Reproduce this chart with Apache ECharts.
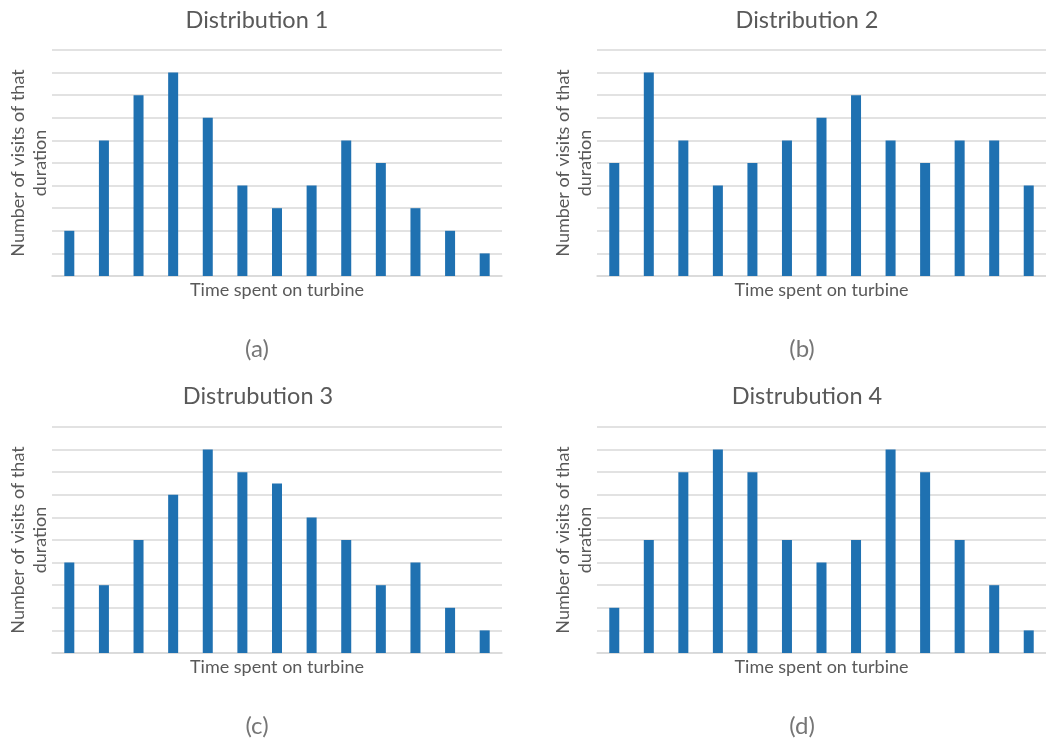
<!DOCTYPE html>
<html>
<head>
<meta charset="utf-8">
<script src="https://cdn.jsdelivr.net/npm/echarts@6/dist/echarts.min.js"></script>
<style>
  html, body { margin: 0; padding: 0; background: #fff; }
  #chart { width: 1046px; height: 742px; }
</style>
</head>
<body>
<div id="chart"></div>
<script>
// 13 duration buckets, no labels shown on the axis
var bins = ['1','2','3','4','5','6','7','8','9','10','11','12','13'];

var dist1 = [2, 6, 8, 9, 7, 4, 3, 4, 6, 5, 3, 2, 1];
var dist2 = [5, 9, 6, 4, 5, 6, 7, 8, 6, 5, 6, 6, 4];
var dist3 = [4, 3, 5, 7, 9, 8, 7.5, 6, 5, 3, 4, 2, 1];
var dist4 = [2, 5, 8, 9, 8, 5, 4, 5, 9, 8, 5, 3, 1];

var titles = ['Distribution 1', 'Distribution 2', 'Distrubution 3', 'Distrubution 4'];
var captions = ['(a)', '(b)', '(c)', '(d)'];

var FONT = 'Lato';
var GREY = '#595959';
var LINE = '#d9d9d9';
var BLUE = '#1f71b1';

var panels = [
  { left: 52,  top: 50,  width: 450, data: dist1, tx: 252, ty: 3,   cx: 257, cy: 349 },
  { left: 597, top: 50,  width: 458, data: dist2, tx: 802, ty: 3,   cx: 802, cy: 349 },
  { left: 52,  top: 427, width: 450, data: dist3, tx: 253, ty: 379, cx: 257, cy: 726 },
  { left: 597, top: 427, width: 458, data: dist4, tx: 802, ty: 379, cx: 802, cy: 726 }
];

var grid = [], xAxis = [], yAxis = [], series = [], title = [], graphic = [];

panels.forEach(function (p, i) {
  grid.push({ left: p.left, top: p.top, width: p.width, height: 226 });
  xAxis.push({
    type: 'category', gridIndex: i, data: bins,
    axisLine: { lineStyle: { color: LINE, width: 1.5 } },
    axisTick: { show: false }, axisLabel: { show: false },
    name: 'Time spent on turbine', nameLocation: 'middle', nameGap: 5,
    nameTextStyle: { fontFamily: FONT, fontSize: 18, color: GREY, verticalAlign: 'top' }
  });
  yAxis.push({
    type: 'value', gridIndex: i, min: 0, max: 10, interval: 1,
    axisLine: { show: false }, axisTick: { show: false }, axisLabel: { show: false },
    splitLine: { lineStyle: { color: LINE, width: 1.5 } },
    name: 'Number of visits of that\nduration', nameLocation: 'middle', nameGap: 1,
    nameTextStyle: { fontFamily: FONT, fontSize: 18, color: GREY, lineHeight: 22 }
  });
  series.push({
    type: 'bar', xAxisIndex: i, yAxisIndex: i, data: p.data,
    barWidth: 10, itemStyle: { color: BLUE }, silent: true
  });
  title.push({
    text: titles[i], left: p.tx, top: p.ty, textAlign: 'center',
    textStyle: { fontFamily: FONT, fontSize: 23.5, fontWeight: 'normal', color: GREY }
  });
  graphic.push({
    type: 'text', x: p.cx, y: p.cy,
    style: { text: captions[i], fontFamily: FONT, fontSize: 24, fill: '#767676',
             textAlign: 'center', textVerticalAlign: 'middle' }
  });
});

var chart = echarts.init(document.getElementById('chart'));
chart.setOption({
  animation: false,
  title: title,
  grid: grid,
  xAxis: xAxis,
  yAxis: yAxis,
  series: series,
  graphic: graphic
});
</script>
</body>
</html>
